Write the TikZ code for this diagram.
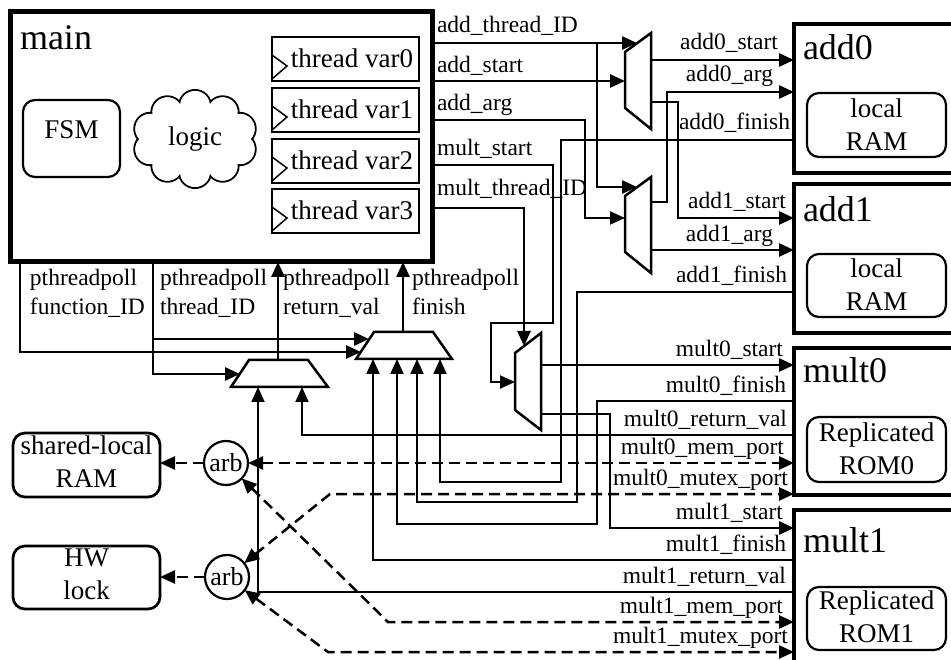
\documentclass[tikz,border=0pt]{standalone}
\usepackage{fontspec}
\setmainfont{Liberation Serif}
\usetikzlibrary{arrows.meta,fit}

\begin{document}
\begin{tikzpicture}[x=1pt,y=-1pt,
  every node/.style={inner sep=0pt, outer sep=0pt},
  arr/.style={-{Triangle[length=15pt,width=13pt]}},
  arrs/.style={{Triangle[length=15pt,width=13pt]}-{Triangle[length=15pt,width=13pt]}},
  wire/.style={line width=2.7pt},
  lwire/.style={line width=1.9pt},
  dwire/.style={line width=2.5pt, dash pattern=on 11pt off 6pt},
  muxsh/.style={draw, line width=2.5pt, line join=miter},
  sigfont/.style={font=\fontsize{23.5}{29}\selectfont},
  midfont/.style={font=\fontsize{27}{33}\selectfont},
  bigfont/.style={font=\fontsize{36}{40}\selectfont},
  block/.style={draw, line width=5pt},
  rbox/.style={draw, line width=2.2pt, rounded corners=12pt},
  boxtext/.style={midfont, align=center, anchor=north},
  tvbox/.style={draw, line width=1.5pt},
  siglab/.style={sigfont, anchor=base east},
  lftlab/.style={sigfont, anchor=base west},
  botlab/.style={sigfont, anchor=north west, align=left}
]
\useasboundingbox (0,0) rectangle (951,660);
\clip (0,0) rectangle (951,660);

% ---------------- main block ----------------
\node[block, fit={(10,12) (432,262)}] (main) {};
\node[bigfont, anchor=base west] (maintitle) at (20,50) {main};
\node[rbox, fit={(23,100) (120,177)}, midfont] (fsm) {FSM};
% cloud of combinational logic: stroked puffs, inner strokes covered in white
\foreach \k in {0,...,9}
  \draw[line width=2pt] ({195+47*cos(18+36*\k)},{139+33*sin(18+36*\k)}) circle (16);
\fill[white] (195,139) ellipse (47 and 33);
\foreach \k in {0,...,9}
  \fill[white] ({195+47*cos(18+36*\k)},{139+33*sin(18+36*\k)}) circle (15);
\node[midfont] (logic) at (195,139) {logic};

% thread variable registers with clock marks
\foreach \i/\t in {0/37,1/88,2/139,3/189}{
  \node[tvbox, fit={(272,\t) (419,\t+44)}] (tv\i) {};
  \draw[line width=1.5pt] (272,\t+18) -- (287,\t+29) -- (272,\t+42);
  \node[midfont, anchor=base east] (tvl\i) at (413,\t+31) {thread var\i};
}

% ---------------- accelerator blocks ----------------
\node[block, line width=4.5pt, fit={(794,24) (965,173)}] (add0) {};
\node[block, line width=4.5pt, fit={(794,184) (965,333)}] (add1) {};
\node[block, line width=4.5pt, fit={(794,348) (965,495)}] (mult0) {};
\node[block, line width=4.5pt, fit={(794,510) (965,672)}] (mult1) {};
\node[bigfont, anchor=base west] (add0t) at (803,60) {add0};
\node[bigfont, anchor=base west] (add1t) at (803,222) {add1};
\node[bigfont, anchor=base west] (mult0t) at (803,383) {mult0};
\node[bigfont, anchor=base west] (mult1t) at (803,552) {mult1};
\node[rbox, fit={(807,93) (946,157)}] (ram0) {};
\node[rbox, fit={(807,254) (946,317)}] (ram1) {};
\node[rbox, fit={(807,417) (946,482)}] (rom0) {};
\node[rbox, fit={(807,587) (946,650)}] (rom1) {};
\node[boxtext] (ram0t) at (ram0.north |- 0,99) {local\\RAM};
\node[boxtext] (ram1t) at (ram1.north |- 0,259) {local\\RAM};
\node[boxtext] (rom0t) at (rom0.north |- 0,423) {Replicated\\ROM0};
\node[boxtext] (rom1t) at (rom1.north |- 0,591) {Replicated\\ROM1};

% ---------------- shared memories and arbiters ----------------
\node[rbox, line width=2.7pt, fit={(13,433) (160,497)}] (shram) {};
\node[rbox, line width=2.7pt, fit={(13,546) (160,609)}] (hwlock) {};
\node[boxtext] (shramt) at (shram.north |- 0,436) {shared-local\\RAM};
\node[boxtext] (hwlockt) at (hwlock.north |- 0,549) {HW\\lock};
\node[circle, draw, line width=2.2pt, minimum size=44, font=\fontsize{26}{30}\selectfont] (arb1) at (226,463) {arb};
\node[circle, draw, line width=2.2pt, minimum size=44, font=\fontsize{26}{30}\selectfont] (arb2) at (227,577) {arb};

% ---------------- multiplexers ----------------
\draw[muxsh] (625,52) -- (651,33) -- (651,129) -- (625,108) -- cycle;
\draw[muxsh] (625,196) -- (651,177) -- (651,273) -- (625,252) -- cycle;
\draw[muxsh] (515,353) -- (541,333) -- (541,430) -- (515,410) -- cycle;
\draw[muxsh] (249,360) -- (308,360) -- (328,387) -- (231,387) -- cycle;
\draw[muxsh] (374,332) -- (433,332) -- (452,359) -- (356,359) -- cycle;

% ---------------- signals leaving main ----------------
\draw[wire,arr] (main.east |- 0,43) -- (637,43);
\draw[wire,arr] (597,43) -- (597,187) -- (637,187);
\draw[wire,arr] (main.east |- 0,81) -- (625,81);
\draw[lwire,arr] (main.east |- 0,120) -- (585,120) -- (585,218) -- (625,218);
\draw[lwire,arr] (main.east |- 0,165) -- (553,165) -- (553,323) -- (491,323) -- (491,382) -- (515,382);
\draw[wire,arr] (main.east |- 0,208) -- (524,208) -- (524,346);
\node[lftlab] (l1) at (437,33) {add\_thread\_ID};
\node[lftlab] (l2) at (437,73) {add\_start};
\node[lftlab] (l3) at (437,111) {add\_arg};
\node[lftlab] (l4) at (437,156) {mult\_start};
\node[lftlab] (l5) at (437,196) {mult\_thread\_ID};

% ---------------- add accelerators ----------------
\draw[wire,arr] (651,60) -- (add0.west |- 0,60);
\draw[wire,arr] (651,202) -- (667,202) -- (667,92) -- (add0.west |- 0,92);
\draw[wire,arr] (651,102) -- (678,102) -- (678,218) -- (add1.west |- 0,218);
\draw[wire,arr] (651,250) -- (add1.west |- 0,250);
\draw[lwire,arr] (add0.west |- 0,140) -- (561,140) -- (561,482) -- (440,482) -- (440,359);
\draw[lwire,arr] (add1.west |- 0,292) -- (577,292) -- (577,502) -- (417,502) -- (417,359);
\node[siglab] (r1) at (778,50) {add0\_start};
\node[siglab] (r2) at (773,82) {add0\_arg};
\node[siglab] (r3) at (790,130) {add0\_finish};
\node[siglab] (r4) at (786,209) {add1\_start};
\node[siglab] (r5) at (773,242) {add1\_arg};
\node[siglab] (r6) at (787,283) {add1\_finish};

% ---------------- mult accelerators ----------------
\draw[wire,arr] (541,365) -- (mult0.west |- 0,365);
\draw[wire,arr] (541,414) -- (610,414) -- (610,528) -- (mult1.west |- 0,528);
\draw[lwire,arr] (mult0.west |- 0,401) -- (597,401) -- (597,524) -- (397,524) -- (397,359);
\draw[lwire,arr] (mult1.west |- 0,560) -- (373,560) -- (373,359);
\draw[lwire,arr] (mult0.west |- 0,435) -- (302,435) -- (302,387);
\draw[lwire,arr] (mult1.west |- 0,592) -- (258,592) -- (258,387);
\draw[dwire,arrs] (arb1.east) -- (mult0.west |- arb1.east);
\draw[dwire,arrs] (arb2) -- (330,494) -- (mult0.west |- 0,494);
\draw[dwire,arrs] (arb1) -- (388,622) -- (mult1.west |- 0,622);
\draw[dwire,arrs] (arb2) -- (328,652) -- (mult1.west |- 0,652);
\draw[dwire,arr] (arb1.west) -- (shram.east |- arb1.west);
\draw[dwire,arr] (arb2.west) -- (hwlock.east |- arb2.west);
\node[siglab] (r7) at (783,357) {mult0\_start};
\node[siglab] (r8) at (786,392) {mult0\_finish};
\node[siglab] (r9) at (787,426) {mult0\_return\_val};
\node[siglab] (r10) at (784,454) {mult0\_mem\_port};
\node[siglab] (r11) at (788,485) {mult0\_mutex\_port};
\node[siglab] (r12) at (783,519) {mult1\_start};
\node[siglab] (r13) at (786,551) {mult1\_finish};
\node[siglab] (r14) at (786,583) {mult1\_return\_val};
\node[siglab] (r15) at (783,613) {mult1\_mem\_port};
\node[siglab] (r16) at (788,643) {mult1\_mutex\_port};

% ---------------- pthreadpoll interface ----------------
\draw[wire,arr] (main.south -| 20,0) -- (20,352) -- (361,352);
\draw[wire,arr] (main.south -| 153,0) -- (153,374) -- (240,374);
\draw[wire,arr] (153,339) -- (369,339);
\draw[wire,arr] (278,360) -- (main.south -| 278,0);
\draw[wire,arr] (403,332) -- (main.south -| 403,0);
\node[botlab] (b1) at (30,269) {pthreadpoll\\function\_ID};
\node[botlab] (b2) at (160,269) {pthreadpoll\\thread\_ID};
\node[botlab] (b3) at (283,269) {pthreadpoll\\return\_val};
\node[botlab] (b4) at (412,269) {pthreadpoll\\finish};
\end{tikzpicture}
\end{document}
